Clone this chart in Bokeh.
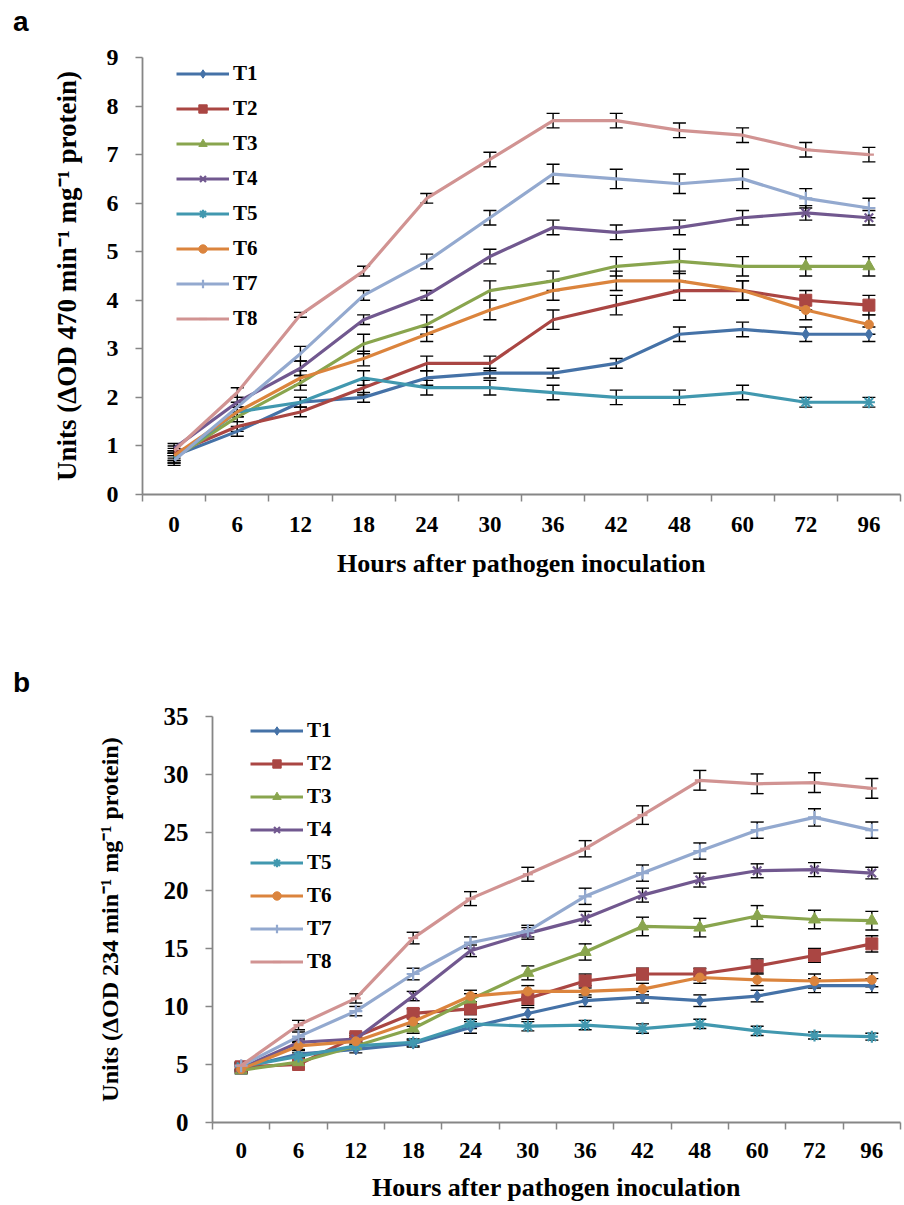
from bokeh.plotting import figure
from bokeh.models import (ColumnDataSource, Whisker, TeeHead, Legend, LegendItem,
                          FixedTicker, Div)
from bokeh.layouts import column
from bokeh.embed import file_html
from bokeh.resources import INLINE

# ---------------- data ----------------
hours = ["0", "6", "12", "18", "24", "30", "36", "42", "48", "60", "72", "96"]
series_names = ["T1", "T2", "T3", "T4", "T5", "T6", "T7", "T8"]
colors = ["#4572A7", "#AA4643", "#89A54E", "#71588F", "#4198AF", "#DB843D", "#93A9CF", "#D19392"]
markers = ["diamond", "square", "triangle", "x", "asterisk", "circle", "cross", "dash"]

# panel a: peroxidase (dOD 470)
a_T1 = [0.80, 1.30, 1.90, 2.00, 2.40, 2.50, 2.50, 2.70, 3.30, 3.40, 3.30, 3.30]
a_T2 = [0.85, 1.40, 1.70, 2.20, 2.70, 2.70, 3.60, 3.90, 4.20, 4.20, 4.00, 3.90]
a_T3 = [0.75, 1.60, 2.30, 3.10, 3.50, 4.20, 4.40, 4.70, 4.80, 4.70, 4.70, 4.70]
a_T4 = [0.95, 1.90, 2.60, 3.60, 4.10, 4.90, 5.50, 5.40, 5.50, 5.70, 5.80, 5.70]
a_T5 = [0.75, 1.70, 1.90, 2.40, 2.20, 2.20, 2.10, 2.00, 2.00, 2.10, 1.90, 1.90]
a_T6 = [0.80, 1.70, 2.40, 2.80, 3.30, 3.80, 4.20, 4.40, 4.40, 4.20, 3.80, 3.50]
a_T7 = [0.70, 1.80, 2.90, 4.10, 4.80, 5.70, 6.60, 6.50, 6.40, 6.50, 6.10, 5.90]
a_T8 = [0.90, 2.10, 3.70, 4.60, 6.10, 6.90, 7.70, 7.70, 7.50, 7.40, 7.10, 7.00]

a_err_T1 = [0.10, 0.10, 0.10, 0.10, 0.15, 0.10, 0.10, 0.10, 0.15, 0.15, 0.15, 0.15]
a_err_T2 = [0.10, 0.10, 0.10, 0.15, 0.15, 0.15, 0.20, 0.20, 0.20, 0.20, 0.20, 0.20]
a_err_T3 = [0.10, 0.10, 0.15, 0.20, 0.20, 0.20, 0.20, 0.20, 0.25, 0.20, 0.20, 0.20]
a_err_T4 = [0.10, 0.10, 0.15, 0.10, 0.10, 0.15, 0.15, 0.15, 0.15, 0.15, 0.15, 0.15]
a_err_T5 = [0.10, 0.10, 0.10, 0.15, 0.15, 0.15, 0.15, 0.15, 0.15, 0.15, 0.10, 0.10]
a_err_T6 = [0.10, 0.10, 0.15, 0.15, 0.15, 0.20, 0.20, 0.20, 0.20, 0.20, 0.20, 0.20]
a_err_T7 = [0.10, 0.10, 0.15, 0.10, 0.15, 0.15, 0.20, 0.20, 0.20, 0.20, 0.20, 0.20]
a_err_T8 = [0.10, 0.10, 0.05, 0.10, 0.10, 0.15, 0.15, 0.15, 0.15, 0.15, 0.15, 0.15]

# panel b: lipoxygenase (dOD 234)
b_T1 = [4.7, 5.9, 6.3, 6.8, 8.2, 9.4, 10.5, 10.8, 10.5, 10.9, 11.8, 11.8]
b_T2 = [4.8, 5.0, 7.4, 9.4, 9.8, 10.7, 12.2, 12.8, 12.8, 13.5, 14.4, 15.4]
b_T3 = [4.5, 5.2, 6.6, 8.1, 10.6, 12.9, 14.7, 16.9, 16.8, 17.8, 17.5, 17.4]
b_T4 = [4.7, 6.9, 7.2, 10.9, 14.8, 16.3, 17.6, 19.6, 20.9, 21.7, 21.8, 21.5]
b_T5 = [4.8, 5.7, 6.6, 6.9, 8.5, 8.3, 8.4, 8.1, 8.5, 7.9, 7.5, 7.4]
b_T6 = [4.6, 6.6, 7.0, 8.7, 10.9, 11.3, 11.3, 11.5, 12.5, 12.3, 12.2, 12.3]
b_T7 = [4.9, 7.4, 9.6, 12.8, 15.5, 16.5, 19.5, 21.5, 23.4, 25.2, 26.3, 25.2]
b_T8 = [4.9, 8.4, 10.7, 15.9, 19.3, 21.4, 23.6, 26.5, 29.5, 29.2, 29.3, 28.8]

b_err_T1 = [0.3, 0.3, 0.3, 0.3, 0.5, 0.5, 0.5, 0.5, 0.5, 0.5, 0.6, 0.6]
b_err_T2 = [0.3, 0.3, 0.3, 0.4, 0.5, 0.6, 0.6, 0.5, 0.5, 0.6, 0.6, 0.7]
b_err_T3 = [0.3, 0.3, 0.3, 0.4, 0.5, 0.6, 0.7, 0.8, 0.8, 0.9, 0.8, 0.8]
b_err_T4 = [0.3, 0.3, 0.3, 0.4, 0.5, 0.5, 0.6, 0.6, 0.6, 0.6, 0.6, 0.5]
b_err_T5 = [0.3, 0.3, 0.3, 0.3, 0.4, 0.4, 0.4, 0.4, 0.4, 0.4, 0.3, 0.3]
b_err_T6 = [0.3, 0.3, 0.3, 0.4, 0.5, 0.5, 0.5, 0.5, 0.5, 0.5, 0.6, 0.6]
b_err_T7 = [0.3, 0.4, 0.4, 0.5, 0.5, 0.5, 0.7, 0.7, 0.7, 0.7, 0.75, 0.7]
b_err_T8 = [0.3, 0.4, 0.4, 0.5, 0.6, 0.6, 0.7, 0.8, 0.85, 0.85, 0.85, 0.85]

a_values = [a_T1, a_T2, a_T3, a_T4, a_T5, a_T6, a_T7, a_T8]
a_errors = [a_err_T1, a_err_T2, a_err_T3, a_err_T4, a_err_T5, a_err_T6, a_err_T7, a_err_T8]
b_values = [b_T1, b_T2, b_T3, b_T4, b_T5, b_T6, b_T7, b_T8]
b_errors = [b_err_T1, b_err_T2, b_err_T3, b_err_T4, b_err_T5, b_err_T6, b_err_T7, b_err_T8]

a_ylabel = "Units (\u0394OD 470 min\u207b\u00b9 mg\u207b\u00b9 protein)"
b_ylabel = "Units (\u0394OD 234 min\u207b\u00b9 mg\u207b\u00b9 protein)"
xlabel = "Hours after pathogen inoculation"

SERIF = "Liberation Serif"
AXIS_GREY = "#868686"
marker_sizes = {"diamond": 11, "square": 12, "triangle": 12, "x": 12,
                "asterisk": 12, "circle": 9, "cross": 13, "dash": 10}


def make_panel(values, errors, ymax, ystep, ylabel, height, border_left,
               border_top, border_bottom, marker_idx, fonts, legend_cfg,
               ylabel_standoff, xlabel_standoff, xtick_standoff):
    xs = list(range(len(hours)))
    p = figure(width=902, height=height, output_backend="svg", toolbar_location=None,
               x_range=(-0.5, len(hours) - 0.5), y_range=(0, ymax),
               min_border_left=border_left, min_border_right=2,
               min_border_top=border_top, min_border_bottom=border_bottom)
    p.frame_align = False
    p.outline_line_color = None
    p.grid.grid_line_color = None
    p.background_fill_color = "white"

    items = []
    for i, name in enumerate(series_names):
        ys = values[i]
        es = errors[i]
        src = ColumnDataSource(dict(x=xs, y=ys,
                                    upper=[v + e for v, e in zip(ys, es)],
                                    lower=[v - e for v, e in zip(ys, es)]))
        lr = p.line("x", "y", source=src, line_color=colors[i], line_width=3.2)
        msrc = ColumnDataSource(dict(x=[xs[k] for k in marker_idx],
                                     y=[ys[k] for k in marker_idx]))
        m = markers[i]
        sr = p.scatter("x", "y", source=msrc, marker=m, size=marker_sizes[m],
                       fill_color=colors[i], line_color=colors[i],
                       line_width=2.2 if m in ("x", "asterisk", "cross", "dash") else 1)
        w = Whisker(source=src, base="x", upper="upper", lower="lower",
                    line_color="black", line_width=1.4,
                    upper_head=TeeHead(size=13, line_color="black", line_width=1.4),
                    lower_head=TeeHead(size=13, line_color="black", line_width=1.4))
        p.add_layout(w)
        items.append(LegendItem(label=name, renderers=[lr, sr]))

    legend = Legend(items=items, location=legend_cfg["loc"], padding=0, margin=0,
                    border_line_color=None, background_fill_alpha=0,
                    glyph_width=53, glyph_height=legend_cfg["gh"],
                    label_height=legend_cfg["gh"], spacing=legend_cfg["sp"],
                    label_standoff=4, label_text_font=SERIF,
                    label_text_font_style="bold",
                    label_text_font_size=legend_cfg["fs"], label_text_color="black")
    p.add_layout(legend)

    # x axis: labels at category centres, ticks at category boundaries
    xa = p.xaxis[0]
    xa.ticker = FixedTicker(ticks=xs, minor_ticks=[k - 0.5 for k in range(len(hours) + 1)])
    xa.major_label_overrides = {k: hours[k] for k in xs}
    xa.major_tick_line_color = None
    xa.major_tick_out = 0
    xa.major_tick_in = 0
    xa.minor_tick_line_color = AXIS_GREY
    xa.minor_tick_line_width = 1.5
    xa.minor_tick_out = 7
    xa.minor_tick_in = 0
    xa.axis_line_color = AXIS_GREY
    xa.axis_line_width = 1.8
    xa.major_label_text_font = SERIF
    xa.major_label_text_font_style = "bold"
    xa.major_label_text_font_size = fonts["xt"]
    xa.major_label_text_color = "black"
    xa.major_label_standoff = xtick_standoff
    xa.axis_label = xlabel
    xa.axis_label_text_font = SERIF
    xa.axis_label_text_font_style = "bold"
    xa.axis_label_text_font_size = fonts["xl"]
    xa.axis_label_text_color = "black"
    xa.axis_label_standoff = xlabel_standoff

    ya = p.yaxis[0]
    ya.ticker = FixedTicker(ticks=list(range(0, ymax + 1, ystep)), minor_ticks=[])
    ya.major_tick_line_color = AXIS_GREY
    ya.major_tick_line_width = 1.5
    ya.major_tick_out = 7
    ya.major_tick_in = 0
    ya.minor_tick_line_color = None
    ya.axis_line_color = AXIS_GREY
    ya.axis_line_width = 1.8
    ya.major_label_text_font = SERIF
    ya.major_label_text_font_style = "bold"
    ya.major_label_text_font_size = fonts["yt"]
    ya.major_label_text_color = "black"
    ya.major_label_standoff = 17
    ya.axis_label = ylabel
    ya.axis_label_text_font = SERIF
    ya.axis_label_text_font_style = "bold"
    ya.axis_label_text_font_size = fonts["yl"]
    ya.axis_label_text_color = "black"
    ya.axis_label_standoff = ylabel_standoff
    return p


def panel_letter(letter, height, top_pad):
    html = ('<div style="font-family: \'Liberation Sans\'; font-weight: bold; '
            'font-size: 28px; line-height: 28px; padding-left: 13px; '
            'padding-top: %dpx;">%s</div>' % (top_pad, letter))
    return Div(text=html, width=902, height=height, margin=(0, 0, 0, 0))


pa = make_panel(a_values, a_errors, 9, 1, a_ylabel, height=565, border_left=142,
                border_top=17, border_bottom=111, marker_idx=[10, 11],
                fonts={"xt": "23px", "xl": "26px", "yt": "24px", "yl": "27px"},
                legend_cfg={"loc": (34, 163), "gh": 21, "sp": 10, "fs": "21px"},
                ylabel_standoff=22, xlabel_standoff=14, xtick_standoff=15)

pb = make_panel(b_values, b_errors, 35, 5, b_ylabel, height=507, border_left=212,
                border_top=19, border_bottom=80, marker_idx=list(range(len(hours))),
                fonts={"xt": "23px", "xl": "26px", "yt": "25px", "yl": "24px"},
                legend_cfg={"loc": (38, 148), "gh": 21, "sp": 8, "fs": "21px"},
                ylabel_standoff=38, xlabel_standoff=12, xtick_standoff=13)

la = panel_letter("a", 40, 8)
lb = panel_letter("b", 92, 64)

layout = column(la, pa, lb, pb, spacing=0)

open("out.html", "w").write(file_html(layout, INLINE))
